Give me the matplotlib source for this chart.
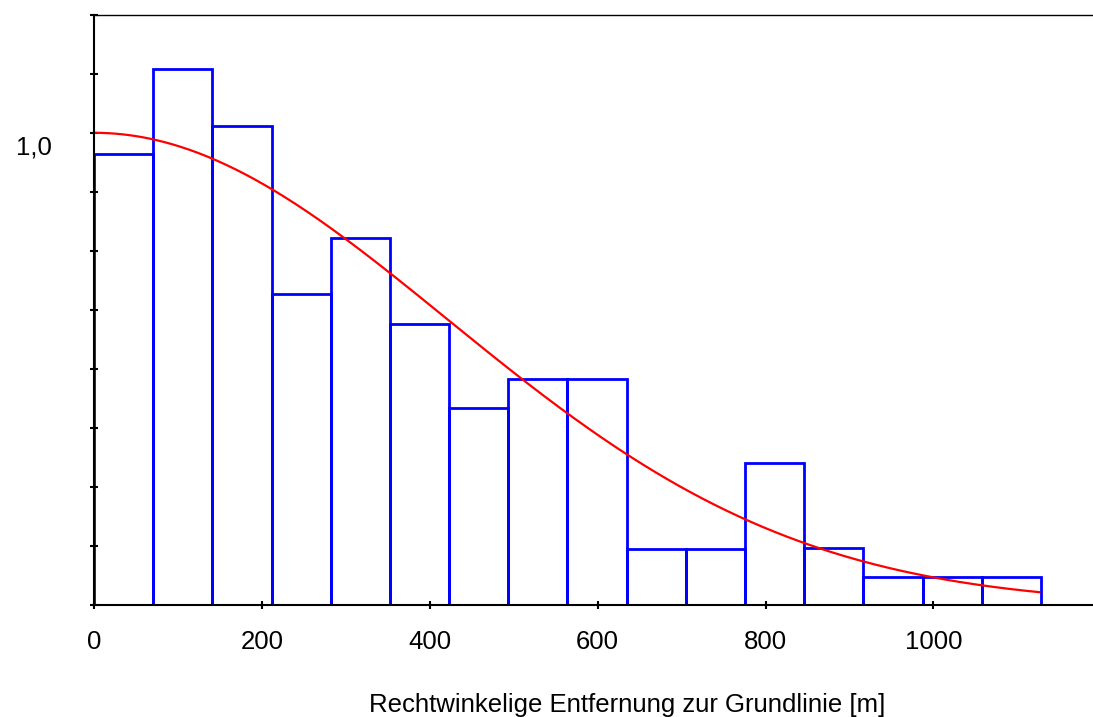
import numpy as np
import matplotlib.pyplot as plt
import matplotlib.transforms as mtransforms

# ==== Data ====
bin_width = 70.5
bin_left = np.arange(16) * bin_width
bar_heights = [0.955, 1.135, 1.015, 0.658, 0.778, 0.596, 0.418, 0.478,
               0.478, 0.118, 0.118, 0.300, 0.120, 0.0586, 0.0586, 0.0586]
sigma = 420.0          # half-normal detection function
x_curve_max = 1126.0
x_ticks = [0, 200, 400, 600, 800, 1000]
y_ticks = np.arange(0, 1.25 + 0.001, 0.125)

plt.rcParams["font.family"] = ["Liberation Sans", "DejaVu Sans"]

fig = plt.figure(figsize=(10.93, 7.17), dpi=100)
ax = fig.add_axes([0.086, 0.156, 0.914, 0.8235])

ax.bar(bin_left, bar_heights, width=bin_width, align="edge",
       fill=False, edgecolor="#0000ff", linewidth=2.0, zorder=1)

xc = np.linspace(0, x_curve_max, 400)
ax.plot(xc, np.exp(-xc**2 / (2 * sigma**2)), color="#ff0000", lw=1.6, zorder=3)

ax.set_xlim(0, 1190)
ax.set_ylim(0, 1.25)
ax.spines["right"].set_visible(False)
for s in ["left", "bottom", "top"]:
    ax.spines[s].set_linewidth(1.5)
    ax.spines[s].set_zorder(4)
ax.spines["top"].set_linewidth(1.0)

ax.set_xticks(x_ticks)
ax.set_xticklabels([str(v) for v in x_ticks])
ax.set_yticks(y_ticks)
ax.set_yticklabels(["1,0" if abs(v - 1.0) < 1e-9 else "" for v in y_ticks])
ax.tick_params(axis="both", direction="inout", length=6, width=1.5,
               labelsize=18.5, colors="black")
ax.tick_params(axis="x", pad=15)
ax.tick_params(axis="y", pad=27)

# the "1,0" sits a bit below its tick in the original
shift = mtransforms.ScaledTranslation(0, -12 / 100, fig.dpi_scale_trans)
for lab in ax.get_yticklabels():
    lab.set_transform(lab.get_transform() + shift)

ax.set_xlabel("Rechtwinkelige Entfernung zur Grundlinie [m]", fontsize=18.5)
ax.xaxis.set_label_coords(0.534, -0.148)

plt.savefig("out.png", dpi=100)
